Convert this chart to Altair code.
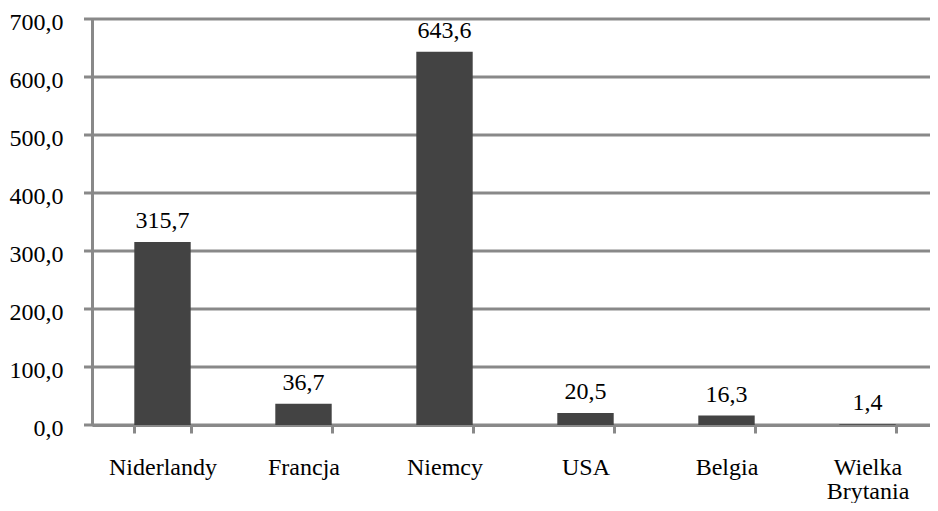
import altair as alt
import pandas as pd

categories = ["Niderlandy", "Francja", "Niemcy", "USA", "Belgia", "Wielka Brytania"]
values = [315.7, 36.7, 643.6, 20.5, 16.3, 1.4]
grid_values = [0, 100, 200, 300, 400, 500, 600, 700]

df = pd.DataFrame({"kraj": categories, "wartosc": values})
df["etykieta"] = [f"{v:.1f}".replace(".", ",") for v in values]
grid_df = pd.DataFrame({"wartosc": grid_values})

FONT = "Liberation Serif"
GRAY = "#898989"
BAR = "#434343"
FS = 24

y_scale = alt.Scale(domain=[0, 700], nice=False, zero=True)
x_scale = alt.Scale(domain=categories, paddingInner=0.6, paddingOuter=0.3, range=[0, 846])

y_axis = alt.Axis(
    title=None,
    values=grid_values,
    labelExpr="replace(format(datum.value, '.1f'), '.', ',')",
    labelFont=FONT,
    labelFontSize=FS,
    labelColor="#000000",
    labelPadding=29,
    labelOffset=3,
    ticks=False,
    tickSize=0,
    domainColor=GRAY,
    domainWidth=3,
    grid=False,
)
x_axis = alt.Axis(
    title=None,
    labelAngle=0,
    labelFont=FONT,
    labelFontSize=FS,
    labelColor="#000000",
    labelPadding=22,
    labelLineHeight=24,
    labelExpr="split(datum.label, ' ')",
    tickBand="extent",
    tickSize=8,
    tickWidth=3,
    tickColor=GRAY,
    domainColor=GRAY,
    domainWidth=3,
    grid=False,
)

grid = alt.Chart(grid_df).mark_rule(color=GRAY, strokeWidth=3).encode(
    y=alt.Y("wartosc:Q", scale=y_scale, axis=y_axis),
    x=alt.value(-8),
    x2=alt.value(846),
)

bars = alt.Chart(df).mark_bar(color=BAR).encode(
    x=alt.X("kraj:N", scale=x_scale, sort=categories, axis=x_axis),
    y=alt.Y("wartosc:Q", scale=y_scale, axis=y_axis),
)

text = alt.Chart(df).mark_text(
    font=FONT, fontSize=FS, color="#000000", baseline="alphabetic", dy=-14
).encode(
    x=alt.X("kraj:N", scale=x_scale, sort=categories, axis=x_axis),
    y=alt.Y("wartosc:Q", scale=y_scale, axis=y_axis),
    text="etykieta:N",
)

chart = (
    alt.layer(grid, bars, text)
    .properties(
        width=838,
        height=406,
        autosize=alt.AutoSizeParams(type="none"),
        padding={"left": 84, "top": 11, "right": 0, "bottom": 78},
    )
    .configure_view(stroke=None)
    .configure(background="#ffffff")
)

chart.save("out.html", embed_options={"renderer": "svg", "actions": False})
